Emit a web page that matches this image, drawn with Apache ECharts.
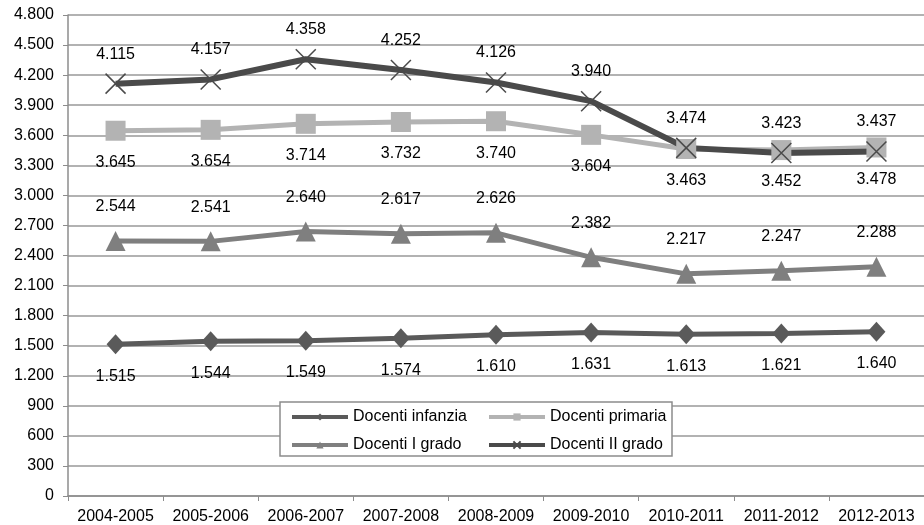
<!DOCTYPE html>
<html>
<head>
<meta charset="utf-8">
<script src="https://cdn.jsdelivr.net/npm/echarts@6/dist/echarts.min.js"></script>
<style>
  html, body { margin: 0; padding: 0; background: #fff; }
  #chart { width: 924px; height: 525px; }
</style>
</head>
<body>
<div id="chart"></div>
<script>
var anni = ['2004-2005', '2005-2006', '2006-2007', '2007-2008', '2008-2009', '2009-2010', '2010-2011', '2011-2012', '2012-2013'];
var infanzia = [1515, 1544, 1549, 1574, 1610, 1631, 1613, 1621, 1640];
var primaria = [3645, 3654, 3714, 3732, 3740, 3604, 3463, 3452, 3478];
var primoGrado = [2544, 2541, 2640, 2617, 2626, 2382, 2217, 2247, 2288];
var secondoGrado = [4115, 4157, 4358, 4252, 4126, 3940, 3474, 3423, 3437];

// separatore delle migliaia all'italiana
function fmt(v) {
    return String(Math.round(v)).replace(/\B(?=(\d{3})+(?!\d))/g, '.');
}

var font = 'Liberation Sans, Arial, sans-serif';
var fs = 16;
var chart = echarts.init(document.getElementById('chart'));

var legendBase = {
    top: 409,
    orient: 'vertical',
    padding: 0,
    itemWidth: 56,
    itemHeight: 9,
    itemGap: 12,
    lineStyle: { width: 4 },
    textStyle: { color: '#000', fontSize: fs, fontFamily: font }
};

var option = {
    backgroundColor: '#fff',
    animation: false,
    textStyle: { fontFamily: font },
    grid: { left: 68, right: -3, top: 15, bottom: 28 },
    xAxis: {
        type: 'category',
        data: anni,
        boundaryGap: true,
        axisLine: { lineStyle: { color: '#8c8c8c', width: 1.5 } },
        axisTick: { show: true, interval: 0, length: 5, lineStyle: { color: '#8c8c8c' } },
        axisLabel: { color: '#000', fontSize: fs, margin: 13, interval: 0, fontFamily: font }
    },
    yAxis: {
        type: 'value',
        min: 0,
        max: 4800,
        interval: 300,
        axisLine: { show: true, lineStyle: { color: '#8c8c8c', width: 1.5 } },
        axisTick: { show: true, length: 5, lineStyle: { color: '#8c8c8c' } },
        axisLabel: { color: '#000', fontSize: fs, margin: 14, fontFamily: font, formatter: fmt },
        splitLine: { lineStyle: { color: '#999', width: 1.5 } }
    },
    legend: [
        Object.assign({}, legendBase, { left: 290, data: ['Docenti infanzia', 'Docenti I grado'] }),
        Object.assign({}, legendBase, { left: 487, data: ['Docenti primaria', 'Docenti II grado'] })
    ],
    graphic: [{
        type: 'rect',
        z: 3,
        shape: { x: 280, y: 402, width: 392, height: 54 },
        style: { fill: '#fff', stroke: '#8c8c8c', lineWidth: 1.5 }
    }],
    series: [{
        name: 'Docenti infanzia',
        type: 'line',
        data: infanzia,
        symbol: 'diamond',
        symbolSize: [18, 20],
        lineStyle: { color: '#5a5a5a', width: 5 },
        itemStyle: { color: '#5a5a5a' },
        label: { show: true, position: 'bottom', distance: 14, color: '#000', fontSize: fs, fontFamily: font,
            formatter: function (p) { return fmt(p.value); } }
    }, {
        name: 'Docenti primaria',
        type: 'line',
        data: primaria,
        symbol: 'rect',
        symbolSize: 20,
        lineStyle: { color: '#b3b3b3', width: 5 },
        itemStyle: { color: '#b3b3b3' },
        label: { show: true, position: 'bottom', distance: 14, color: '#000', fontSize: fs, fontFamily: font,
            formatter: function (p) { return fmt(p.value); } }
    }, {
        name: 'Docenti I grado',
        type: 'line',
        data: primoGrado,
        symbol: 'triangle',
        symbolSize: 20,
        lineStyle: { color: '#7f7f7f', width: 5 },
        itemStyle: { color: '#7f7f7f' },
        label: { show: true, position: 'top', distance: 16, color: '#000', fontSize: fs, fontFamily: font,
            formatter: function (p) { return fmt(p.value); } }
    }, {
        name: 'Docenti II grado',
        type: 'line',
        data: secondoGrado,
        symbol: 'path://M0,0L20,20M20,0L0,20',
        symbolSize: 20,
        lineStyle: { color: '#4a4a4a', width: 6 },
        itemStyle: { color: 'none', borderColor: '#4a4a4a', borderWidth: 1.5 },
        label: { show: true, position: 'top', distance: 9, color: '#000', fontSize: fs, fontFamily: font,
            formatter: function (p) { return fmt(p.value); } }
    }]
};

chart.setOption(option);
</script>
</body>
</html>
